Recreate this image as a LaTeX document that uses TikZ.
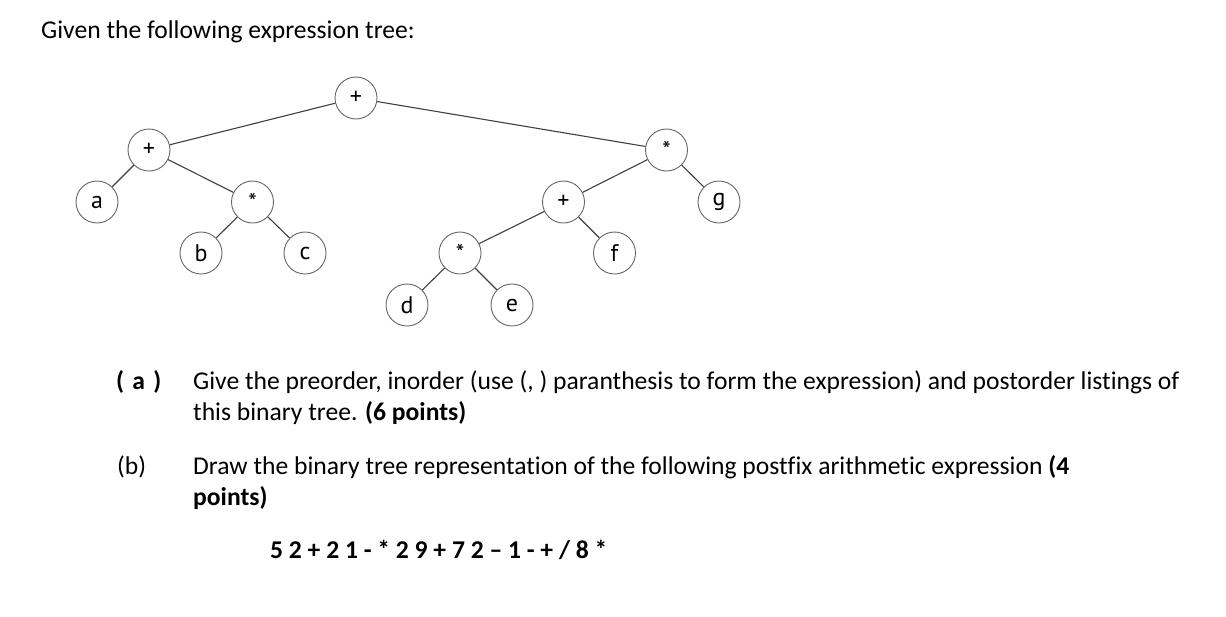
\documentclass[tikz,border=0pt]{standalone}
\usepackage{fontspec}
\setmainfont[Ligatures=NoCommon]{Carlito}
\newfontfamily\nodefont{PT Sans}
\begin{document}
\begin{tikzpicture}[x=1pt,y=-1pt,
  tn/.style={circle,draw=black!60,line width=0.9pt,minimum size=42pt,inner sep=0pt,font=\nodefont\fontsize{24}{24}\selectfont},
  edge/.style={draw=black!75,line width=1.1pt},
  txt/.style={anchor=base west,inner sep=0pt,font=\fontsize{25.6}{30}\selectfont}]
\useasboundingbox[fill=white] (0,0) rectangle (1226,616);
\node[txt] (title) at (41,38) {Given the following expression tree:};
% tree
\node[tn] (r) at (356,98) {+};
\node[tn] (p1) at (149,150) {+};
\node[tn] (a) at (97,202) {a};
\node[tn] (m1) at (252.5,202) {*};
\node[tn] (b) at (201,253) {b};
\node[tn] (c) at (305,253) {c};
\node[tn] (m2) at (666.5,150) {*};
\node[tn] (p2) at (563.5,202) {+};
\node[tn] (g) at (719,202) {g};
\node[tn] (m3) at (460,253) {*};
\node[tn] (f) at (614.5,253) {f};
\node[tn] (d) at (407,305) {d};
\node[tn] (e) at (512,305) {e};
\draw[edge] (r) -- (p1);
\draw[edge] (r) -- (m2);
\draw[edge] (p1) -- (a);
\draw[edge] (p1) -- (m1);
\draw[edge] (m1) -- (b);
\draw[edge] (m1) -- (c);
\draw[edge] (m2) -- (p2);
\draw[edge] (m2) -- (g);
\draw[edge] (p2) -- (m3);
\draw[edge] (p2) -- (f);
\draw[edge] (m3) -- (d);
\draw[edge] (m3) -- (e);
% questions
\node[txt] (la) at (116,389) {\textbf{(\hspace{2.5pt} a\hspace{2.5pt} )}};
\node[txt] (qa1) at (193,389) {Give the preorder, inorder (use (, ) paranthesis to form the expression) and postorder listings of};
\node[txt] (qa2) at (193,420) {this binary tree. \textbf{(6 points)}};
\node[txt] (lb) at (117,474) {(b)};
\node[txt] (qb1) at (193,474) {Draw the binary tree representation of the following postfix arithmetic expression \textbf{(4}};
\node[txt] (qb2) at (193,505) {\textbf{points)}};
\node[txt] (ex) at (270,558) {\textbf{5 2 + 2 1 - * 2 9 + 7 2 – 1 - + / 8 *}};
\end{tikzpicture}
\end{document}
